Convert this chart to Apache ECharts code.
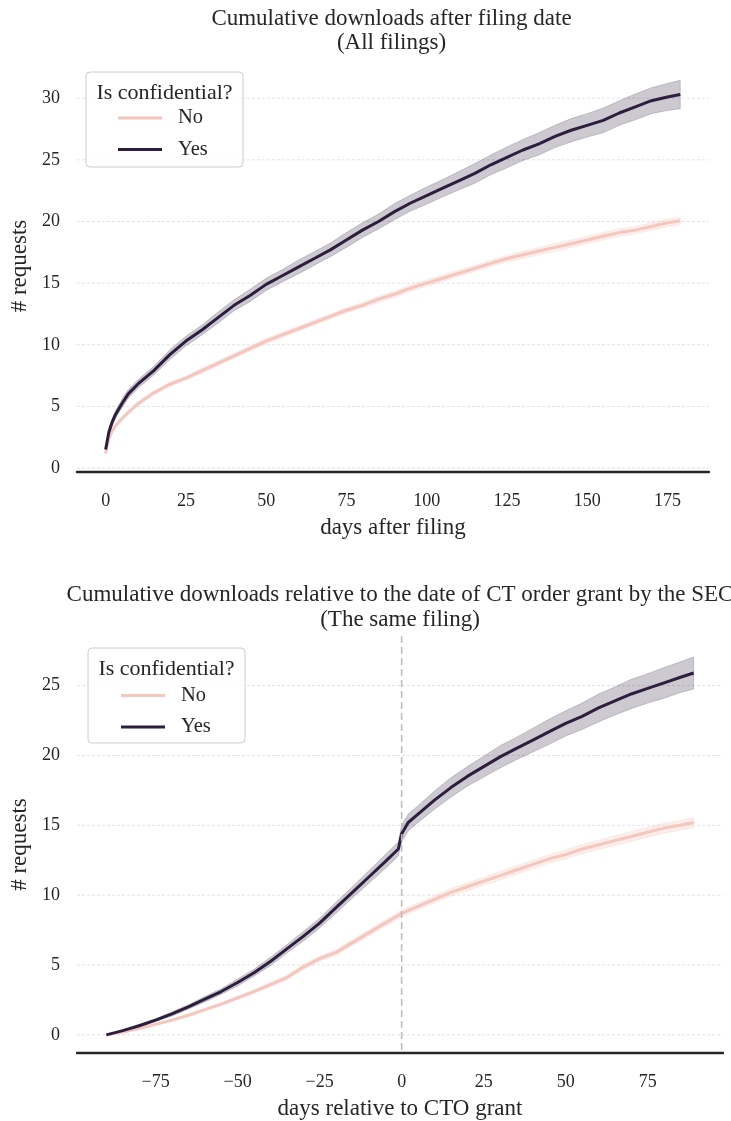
<!DOCTYPE html>
<html><head><meta charset="utf-8">
<script src="https://cdn.jsdelivr.net/npm/echarts@6/dist/echarts.min.js"></script>
<style>html,body{margin:0;padding:0;background:#fff}#c{width:731px;height:1121px}</style>
</head><body><div id="c"></div>
<script>
// ---------- DATA ----------
// Top panel: days after filing
const topDays = [0,1,2,3,5,7,10,15,20,25,30,35,40,45,50,55,60,65,70,75,80,85,90,95,100,105,110,115,120,125,130,135,140,145,150,155,160,165,170,175,179];
const topYes  = [1.5,2.9,3.7,4.3,5.2,6.0,6.8,7.9,9.2,10.3,11.2,12.2,13.2,14.0,14.9,15.6,16.3,17.0,17.7,18.5,19.3,20.0,20.8,21.5,22.1,22.7,23.3,23.9,24.6,25.2,25.8,26.3,26.9,27.4,27.8,28.2,28.8,29.3,29.8,30.1,30.3];
const topYesHalf = [0.3,0.3,0.3,0.3,0.35,0.35,0.35,0.35,0.4,0.4,0.4,0.45,0.45,0.5,0.5,0.5,0.55,0.55,0.55,0.6,0.6,0.6,0.65,0.65,0.7,0.7,0.75,0.8,0.8,0.85,0.85,0.9,0.9,0.95,0.95,1.0,1.0,1.05,1.05,1.1,1.15];
const topNo   = [1.2,2.4,3.0,3.4,4.0,4.5,5.2,6.1,6.8,7.3,7.9,8.5,9.1,9.7,10.3,10.8,11.3,11.8,12.3,12.8,13.2,13.7,14.1,14.6,15.0,15.4,15.8,16.2,16.6,17.0,17.3,17.6,17.9,18.2,18.5,18.8,19.1,19.3,19.6,19.9,20.05];
const topNoHalf = [0.1,0.15,0.15,0.15,0.15,0.15,0.15,0.15,0.15,0.15,0.2,0.2,0.2,0.2,0.2,0.2,0.2,0.2,0.2,0.2,0.2,0.25,0.25,0.25,0.25,0.25,0.25,0.25,0.25,0.25,0.3,0.3,0.3,0.3,0.3,0.3,0.3,0.3,0.3,0.3,0.3];
const topXTicks = [0,25,50,75,100,125,150,175];
const topYTicks = [0,5,10,15,20,25,30];

// Bottom panel: days relative to CTO grant
const botDays = [-90,-85,-80,-75,-70,-65,-60,-55,-50,-45,-40,-35,-30,-25,-20,-15,-10,-5,-1,0,2,5,10,15,20,25,30,35,40,45,50,55,60,65,70,75,80,85,89];
const botYes  = [0.0,0.3,0.65,1.05,1.5,2.0,2.55,3.1,3.75,4.45,5.25,6.15,7.05,8.0,9.1,10.2,11.3,12.4,13.3,14.4,15.2,15.8,16.8,17.7,18.5,19.2,19.9,20.5,21.1,21.7,22.3,22.8,23.4,23.9,24.4,24.8,25.2,25.6,25.9];
const botYesHalf = [0,0.05,0.1,0.1,0.15,0.15,0.2,0.2,0.25,0.25,0.3,0.3,0.35,0.35,0.4,0.4,0.45,0.5,0.5,0.6,0.6,0.6,0.65,0.7,0.7,0.75,0.8,0.8,0.85,0.9,0.9,0.95,1.0,1.0,1.05,1.05,1.1,1.1,1.15];
const botNo   = [0.0,0.2,0.45,0.75,1.05,1.4,1.8,2.2,2.65,3.1,3.6,4.1,4.85,5.45,5.9,6.6,7.3,8.0,8.55,8.7,8.9,9.2,9.7,10.2,10.6,11.0,11.4,11.8,12.2,12.6,12.9,13.3,13.6,13.9,14.2,14.5,14.8,15.0,15.2];
const botNoHalf = [0,0.03,0.05,0.05,0.08,0.08,0.1,0.1,0.12,0.12,0.15,0.15,0.18,0.18,0.2,0.2,0.22,0.22,0.25,0.25,0.25,0.25,0.25,0.28,0.28,0.28,0.3,0.3,0.3,0.3,0.32,0.32,0.32,0.35,0.35,0.35,0.35,0.35,0.35];
const botXTicks = [-75,-50,-25,0,25,50,75];
const botYTicks = [0,5,10,15,20,25];
const grantDay = [0];

const seriesNames = ['No','Yes'];
const titles = ['Cumulative downloads after filing date\n(All filings)',
                'Cumulative downloads relative to the date of CT order grant by the SEC\n(The same filing)'];
const xNames = ['days after filing','days relative to CTO grant'];
const yName = '# requests';
const legendTitle = 'Is confidential?';

// ---------- STYLE ----------
const FONT = '"Liberation Serif","Times New Roman",serif';
const TXT = '#262626';
const C_NO = '#f4c6bd';
const C_YES = '#2d1e3e';

function zip(xs, ys){ return xs.map((x,i)=>[x, ys[i]]); }
function fmt(v){ return String(v).replace('-', '\u2212'); }

function band(idx, days, mean, half, fill, stroke){
  return {
    type:'custom', xAxisIndex:idx, yAxisIndex:idx, silent:true, z:2, animation:false,
    data:[[days[0], mean[0]]],
    renderItem:function(params, api){
      const pts=[];
      for(let i=0;i<days.length;i++) pts.push(api.coord([days[i], mean[i]+half[i]]));
      for(let i=days.length-1;i>=0;i--) pts.push(api.coord([days[i], mean[i]-half[i]]));
      return {type:'polygon', shape:{points:pts}, style:{fill:fill, stroke:stroke, lineWidth:1}};
    }
  };
}
function gridLines(idx, ticks){
  return {
    type:'custom', xAxisIndex:idx, yAxisIndex:idx, silent:true, z:0, animation:false,
    data: ticks.map(v=>[0, v]),
    renderItem:function(params, api){
      const cs=params.coordSys;
      const y=api.coord([api.value(0), api.value(1)])[1];
      return {type:'line', shape:{x1:cs.x, y1:y, x2:cs.x+cs.width, y2:y},
              style:{stroke:'#e2e2e2', lineWidth:1, lineDash:[3,2]}};
    }
  };
}
function vLine(idx, xs){
  return {
    type:'custom', xAxisIndex:idx, yAxisIndex:idx, silent:true, z:4, animation:false,
    data: xs.map(v=>[v, 0]),
    renderItem:function(params, api){
      const cs=params.coordSys;
      const x=api.coord([api.value(0), 0])[0];
      return {type:'line', shape:{x1:x, y1:cs.y, x2:x, y2:cs.y+cs.height},
              style:{stroke:'#bbbbbb', lineWidth:1.5, lineDash:[7,4]}};
    }
  };
}
function line(idx, name, days, vals, color){
  return {type:'line', name:name, xAxisIndex:idx, yAxisIndex:idx, data:zip(days, vals),
          showSymbol:false, symbol:'none', z:3, animation:false,
          lineStyle:{width:3, color:color}, itemStyle:{color:color}};
}
function xAxis(idx, min, max, ticks, name){
  return {gridIndex:idx, type:'value', min:min, max:max,
    axisLine:{show:true, onZero:false, lineStyle:{color:TXT, width:2.4}},
    axisTick:{show:false}, splitLine:{show:false},
    axisLabel:{customValues:ticks, margin:20, fontFamily:FONT, fontSize:18, color:TXT, formatter:fmt},
    name:name, nameLocation:'middle', nameGap:44,
    nameTextStyle:{fontFamily:FONT, fontSize:23, color:TXT}};
}
function yAxis(idx, min, max, ticks){
  return {gridIndex:idx, type:'value', min:min, max:max,
    axisLine:{show:false}, axisTick:{show:false}, splitLine:{show:false},
    axisLabel:{customValues:ticks, margin:17, fontFamily:FONT, fontSize:18, color:TXT, formatter:fmt},
    name:yName, nameLocation:'middle', nameGap:45, nameRotate:90,
    nameTextStyle:{fontFamily:FONT, fontSize:23, color:TXT}};
}
function legend(left, top){
  return {data:seriesNames, orient:'vertical', left:left, top:top, padding:0,
    icon:'rect', itemWidth:44, itemHeight:3, itemGap:10.5, selectedMode:false, z:60,
    textStyle:{fontFamily:FONT, fontSize:20.5, color:TXT, lineHeight:20, padding:[0,0,0,11]}};
}
function legendBox(x, y){
  return [
    {type:'rect', x:x, y:y, z:50, silent:true, shape:{x:0, y:0, width:157, height:95, r:4},
     style:{fill:'rgba(255,255,255,0.85)', stroke:'#cccccc', lineWidth:1}},
    {type:'text', x:x+78.5, y:y+21, z:60, silent:true,
     style:{text:legendTitle, font:'22px ' + FONT, fill:TXT, align:'center', verticalAlign:'middle'}}
  ];
}

const chart = echarts.init(document.getElementById('c'), null, {renderer:'canvas'});
chart.setOption({
  backgroundColor:'#ffffff',
  animation:false,
  title:[
    {text:titles[0], left:391.5, top:7, textAlign:'center', padding:0,
     textStyle:{fontFamily:FONT, fontSize:23, fontWeight:'normal', color:TXT, lineHeight:24}},
    {text:titles[1], left:400, top:582, textAlign:'center', padding:0,
     textStyle:{fontFamily:FONT, fontSize:23, fontWeight:'normal', color:TXT, lineHeight:25}}
  ],
  grid:[
    {left:74, right:22, top:60, height:412},
    {left:77, right:8, top:636, height:419}
  ],
  xAxis:[ xAxis(0, -8.95, 187.95, topXTicks, xNames[0]), xAxis(1, -98.95, 97.95, botXTicks, xNames[1]) ],
  yAxis:[ yAxis(0, -0.32, 33.1, topYTicks), yAxis(1, -1.3, 28.55, botYTicks) ],
  legend:[ legend(118, 107.5), legend(121, 685) ],
  graphic: legendBox(86, 72).concat(legendBox(88, 648)),
  series:[
    gridLines(0, topYTicks),
    band(0, topDays, topNo, topNoHalf, 'rgba(244,198,189,0.3)', 'rgba(244,198,189,0.3)'),
    band(0, topDays, topYes, topYesHalf, 'rgba(45,30,62,0.24)', 'rgba(45,30,62,0.2)'),
    line(0, 'No', topDays, topNo, C_NO),
    line(0, 'Yes', topDays, topYes, C_YES),
    gridLines(1, botYTicks),
    band(1, botDays, botNo, botNoHalf, 'rgba(244,198,189,0.3)', 'rgba(244,198,189,0.3)'),
    band(1, botDays, botYes, botYesHalf, 'rgba(45,30,62,0.24)', 'rgba(45,30,62,0.2)'),
    line(1, 'No', botDays, botNo, C_NO),
    line(1, 'Yes', botDays, botYes, C_YES),
    vLine(1, grantDay)
  ]
});
</script>
</body></html>
